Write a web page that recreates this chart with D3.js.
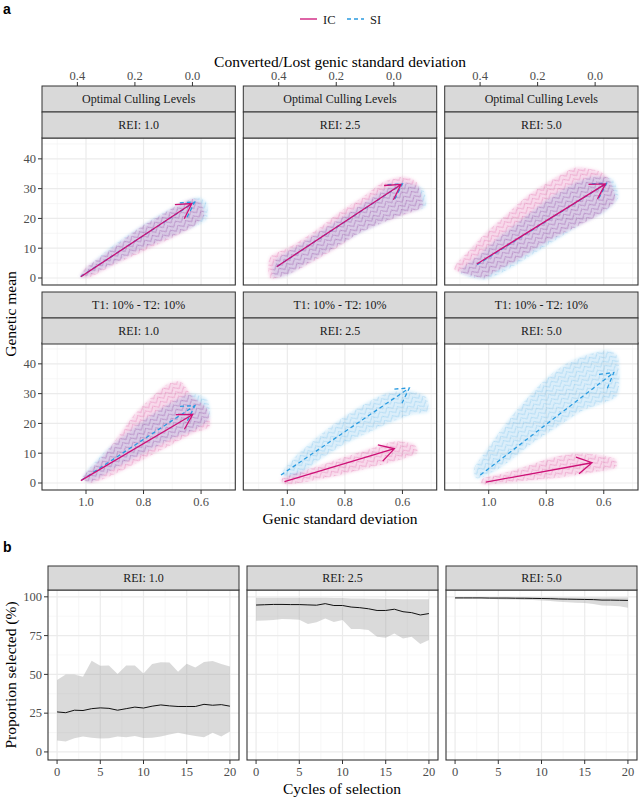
<!DOCTYPE html>
<html><head><meta charset="utf-8">
<script src="https://cdn.jsdelivr.net/npm/d3@7/dist/d3.min.js"></script>
<style>body{margin:0;background:#fff}svg{display:block}</style>
</head><body>
<script>
// ---------------- data ----------------
const methods = ["IC", "SI"];
const schemes = ["Optimal Culling Levels", "T1: 10% - T2: 10%"];
const reiLabels = ["REI: 1.0", "REI: 2.5", "REI: 5.0"];
const xTicksA = [1.0, 0.8, 0.6];
const xMinorA = [1.1, 0.9, 0.7, 0.5];
const topTicksA = [0.4, 0.2, 0.0];
const yTicksA = [0, 10, 20, 30, 40];
const yMinorA = [5, 15, 25, 35, 45];

// arrows [g0, v0, g1, v1] per scheme (row) and REI (column)
const arrowIC = [
  [[1.018, 0.4, 0.632, 25.0], [1.037, 3.8, 0.605, 31.4], [1.041, 4.7, 0.594, 31.6]],
  [[1.018, 0.8, 0.629, 23.0], [1.010, 0.5, 0.628, 11.5], [1.010, 0.3, 0.641, 6.8]]
];
const arrowSI = [
  [[1.018, 0.5, 0.622, 25.5], [1.035, 3.9, 0.600, 31.6], [1.040, 4.5, 0.590, 31.8]],
  [[1.015, 1.0, 0.621, 26.0], [1.022, 2.7, 0.576, 31.9], [1.029, 2.7, 0.565, 37.1]]
];

// envelopes of the replicate trajectories, [genic sd, genetic mean]
const bandIC = [
  [
    [[1.02,0.3],[1.00,3.5],[0.95,7],[0.88,12],[0.81,17],[0.74,21],[0.68,24.5],[0.63,26.5],[0.60,25],[0.59,21],[0.63,17],[0.70,13.5],[0.80,9],[0.90,4.5],[0.98,0.5]],
    [[1.06,7],[0.98,11],[0.90,16],[0.82,22],[0.74,27],[0.67,32],[0.60,34],[0.55,32],[0.53,24],[0.60,21],[0.67,18.5],[0.75,15],[0.83,10],[0.92,5],[1.00,1],[1.06,0]],
    [[1.12,3],[1.06,10],[1.00,16],[0.93,22],[0.86,28],[0.78,33],[0.70,37],[0.62,36],[0.58,33],[0.56,26],[0.62,21],[0.70,17],[0.80,12],[0.90,6],[0.98,2],[1.02,0]]
  ],
  [
    [[1.01,2],[0.95,8],[0.90,14],[0.84,22],[0.78,28],[0.72,33],[0.67,34],[0.63,29],[0.58,25],[0.57,19],[0.62,17],[0.70,13],[0.80,8],[0.90,3],[0.98,0]],
    [[1.02,1.5],[0.93,4.5],[0.84,7.5],[0.76,10],[0.68,12.5],[0.62,14],[0.56,13],[0.55,10],[0.62,7.5],[0.70,5.5],[0.80,3],[0.90,1],[1.00,-0.5]],
    [[1.02,1.5],[0.94,3.5],[0.86,6],[0.78,8.5],[0.70,10],[0.62,9.5],[0.56,8],[0.56,5],[0.64,3.5],[0.74,2],[0.84,1],[0.94,0],[1.02,-0.5]]
  ]
];
const bandSI = [
  [
    [[1.02,0.5],[0.99,4],[0.93,9],[0.86,14],[0.79,18.5],[0.72,22.5],[0.66,25.5],[0.61,27],[0.58,25],[0.58,20],[0.62,17.5],[0.70,14],[0.80,10],[0.90,5],[0.99,1]],
    [[1.04,6],[0.96,11],[0.88,16],[0.80,21],[0.72,26],[0.66,30],[0.60,32],[0.53,30],[0.52,24],[0.58,22],[0.66,19],[0.75,15],[0.84,10],[0.93,5],[1.00,1],[1.05,0.5]],
    [[1.10,2],[1.03,8],[0.96,14],[0.88,20],[0.80,26],[0.72,31],[0.64,34],[0.57,33],[0.55,27],[0.60,22],[0.68,18],[0.78,12],[0.88,6],[0.96,1.5],[1.02,-0.5]]
  ],
  [
    [[1.01,2],[0.95,9],[0.88,15],[0.80,21],[0.72,26],[0.64,30],[0.58,28],[0.57,22],[0.62,18],[0.70,15],[0.80,10],[0.90,5],[0.98,0.5]],
    [[1.02,3],[0.97,9],[0.90,15],[0.82,21],[0.74,26],[0.66,30],[0.58,31],[0.52,29],[0.51,24],[0.57,23],[0.65,20],[0.74,16],[0.82,12],[0.90,7],[0.97,2]],
    [[1.05,5],[1.00,12],[0.94,20],[0.87,28],[0.80,35],[0.73,40],[0.66,43],[0.59,44.5],[0.55,42],[0.55,30],[0.60,27],[0.68,24],[0.76,19],[0.84,14],[0.92,8],[0.98,4],[1.04,1.5]]
  ]
];

// panel b
const cycles = [0,1,2,3,4,5,6,7,8,9,10,11,12,13,14,15,16,17,18,19,20];
const xTicksB = [0, 5, 10, 15, 20];
const xMinorB = [2.5, 7.5, 12.5, 17.5];
const yTicksB = [0, 25, 50, 75, 100];
const yMinorB = [12.5, 37.5, 62.5, 87.5];
const meanB = [
  [25.8,25.3,26.9,26.7,27.9,28.4,28.1,26.9,27.9,28.9,28.3,29.5,30.3,29.7,29.3,29.3,29.3,30.7,30.1,30.5,29.5],
  [94.7,94.9,95.1,95.1,95.0,95.0,94.8,94.6,95.6,94.4,94.4,93.4,93.0,92.3,91.2,91.2,92.0,90.4,89.8,88.3,89.2],
  [99.3,99.3,99.3,99.3,99.2,99.2,99.2,99.1,99.1,99.0,98.9,98.8,98.6,98.5,98.4,98.3,98.2,97.9,97.9,97.8,97.7]
];
const upperB = [
  [46.4,50.0,50.0,48.5,58.8,55.6,55.8,50.2,55.8,55.8,50.6,56.7,57.8,57.6,51.7,56.9,54.5,58.0,58.6,56.7,55.0],
  [99.4,99.4,99.4,99.4,99.4,99.4,99.4,99.4,99.4,99.2,99.2,99.0,99.0,98.8,98.8,98.6,98.6,98.4,98.4,98.4,98.4],
  [99.7,99.7,99.7,99.7,99.7,99.7,99.7,99.7,99.7,99.7,99.7,99.7,99.6,99.6,99.6,99.6,99.6,99.5,99.5,99.5,99.5]
];
const lowerB = [
  [7.3,6.7,8.8,9.9,9.2,8.6,8.8,9.9,9.5,10.3,9.0,9.2,9.9,11.3,12.4,11.3,10.3,9.5,12.4,10.0,13.2],
  [84.6,84.8,85.0,85.7,85.5,85.2,82.5,83.6,86.1,83.7,85.0,79.2,79.2,78.6,74.3,73.6,76.4,73.2,74.3,69.6,72.2],
  [99.0,99.0,98.9,98.9,98.7,98.5,98.3,98.2,98.0,97.9,97.6,97.3,96.8,96.5,96.2,96.0,95.3,94.4,94.2,94.0,93.0]
];

// ---------------- drawing ----------------
const W = 640, H = 799;
const FONT = "'Liberation Serif','Times New Roman',serif";
const colIC = "#CD1076", colSI = "#2A9BE0";
const svg = d3.select("body").append("svg").attr("width", W).attr("height", H)
  .style("font-family", FONT);
const defs = svg.append("defs");

function makePattern(id, col) {
  const p = defs.append("pattern").attr("id", id).attr("width", 9).attr("height", 5)
    .attr("patternUnits", "userSpaceOnUse").attr("patternTransform", "rotate(-32)");
  p.append("path").attr("d", "M0,4.5 L4.5,0.5 L9,4.5").attr("fill", "none")
    .attr("stroke", col).attr("stroke-width", 0.55).attr("stroke-opacity", 0.5);
}
makePattern("patIC", colIC);
makePattern("patSI", colSI);
defs.append("filter").attr("id", "soft").attr("x", "-10%").attr("y", "-10%").attr("width", "120%").attr("height", "120%")
  .append("feGaussianBlur").attr("stdDeviation", 1.6);

const gridMajor = "#EBEBEB", gridMinor = "#F3F3F3", border = "#333333", stripFill = "#D9D9D9";
const tickCol = "#333333", tickLab = "#4D4D4D";
const tickFont = "12.5px";

// panel letters
svg.append("text").attr("x", 3).attr("y", 14).text("a")
  .style("font-family", "'Liberation Sans',Arial,sans-serif").style("font-weight", "bold").style("font-size", "14px");
svg.append("text").attr("x", 3).attr("y", 552).text("b")
  .style("font-family", "'Liberation Sans',Arial,sans-serif").style("font-weight", "bold").style("font-size", "14px");

// legend
const leg = svg.append("g");
const legY = 19;
const legItems = [
  {name: methods[0], col: colIC, dash: null, x: 300},
  {name: methods[1], col: colSI, dash: "4,3", x: 347}
];
legItems.forEach(it => {
  leg.append("line").attr("x1", it.x).attr("x2", it.x + 17).attr("y1", legY).attr("y2", legY)
    .attr("stroke", it.col).attr("stroke-width", 1.3).attr("stroke-dasharray", it.dash);
  leg.append("text").attr("x", it.x + 23).attr("y", legY + 4.5).text(it.name)
    .style("font-size", "12.5px").attr("fill", "#1a1a1a");
});

// top axis title
svg.append("text").attr("x", 340).attr("y", 67).attr("text-anchor", "middle")
  .text("Converted/Lost genic standard deviation").style("font-size", "15.5px");

// panel a layout
const panelXA = [[42, 235.3], [243.3, 436.7], [444.7, 638]];
const rowsA = [{stripTop: 86, top: 138, bottom: 285}, {stripTop: 292, top: 343, bottom: 490}];
const stripH = (rowsA[0].top - rowsA[0].stripTop) / 2;
const xDomA = [1.153, 0.481];
const yDomA = [-2.35, 47.0];
const topOffset = 0.63; // genic sd corresponding to 0.0 converted/lost

function strip(x0, x1, y0, h, label) {
  svg.append("rect").attr("x", x0).attr("y", y0).attr("width", x1 - x0).attr("height", h)
    .attr("fill", stripFill).attr("stroke", border).attr("stroke-width", 1);
  svg.append("text").attr("x", (x0 + x1) / 2).attr("y", y0 + h / 2 + 4.2).attr("text-anchor", "middle")
    .text(label).style("font-size", "12px").attr("fill", "#1A1A1A");
}

function drawArrow(g, xs, ys, a, col, dash) {
  const X0 = xs(a[0]), Y0 = ys(a[1]), X1 = xs(a[2]), Y1 = ys(a[3]);
  const ang = Math.atan2(Y1 - Y0, X1 - X0), L = 17, th = Math.PI / 6;
  const p1 = [X1 - L * Math.cos(ang - th), Y1 - L * Math.sin(ang - th)];
  const p2 = [X1 - L * Math.cos(ang + th), Y1 - L * Math.sin(ang + th)];
  g.append("path").attr("d", `M${X0},${Y0}L${X1},${Y1}M${p1[0]},${p1[1]}L${X1},${Y1}L${p2[0]},${p2[1]}`)
    .attr("fill", "none").attr("stroke", col).attr("stroke-width", 1.3)
    .attr("stroke-dasharray", dash).attr("stroke-linejoin", "miter");
}

rowsA.forEach((row, r) => {
  panelXA.forEach(([x0, x1], c) => {
    const xs = d3.scaleLinear().domain(xDomA).range([x0, x1]);
    const ys = d3.scaleLinear().domain(yDomA).range([row.bottom, row.top]);
    const g = svg.append("g");
    const cid = `clipA${r}${c}`;
    defs.append("clipPath").attr("id", cid).append("rect")
      .attr("x", x0).attr("y", row.top).attr("width", x1 - x0).attr("height", row.bottom - row.top);
    g.append("rect").attr("x", x0).attr("y", row.top).attr("width", x1 - x0).attr("height", row.bottom - row.top).attr("fill", "#fff");
    xMinorA.forEach(v => g.append("line").attr("x1", xs(v)).attr("x2", xs(v)).attr("y1", row.top).attr("y2", row.bottom).attr("stroke", gridMinor).attr("stroke-width", 0.7));
    yMinorA.forEach(v => g.append("line").attr("x1", x0).attr("x2", x1).attr("y1", ys(v)).attr("y2", ys(v)).attr("stroke", gridMinor).attr("stroke-width", 0.7));
    xTicksA.forEach(v => g.append("line").attr("x1", xs(v)).attr("x2", xs(v)).attr("y1", row.top).attr("y2", row.bottom).attr("stroke", gridMajor).attr("stroke-width", 1.2));
    yTicksA.forEach(v => g.append("line").attr("x1", x0).attr("x2", x1).attr("y1", ys(v)).attr("y2", ys(v)).attr("stroke", gridMajor).attr("stroke-width", 1.2));

    const inner = g.append("g").attr("clip-path", `url(#${cid})`);
    const line = d3.line().x(d => xs(d[0])).y(d => ys(d[1])).curve(d3.curveCardinalClosed.tension(0.3));
    [[bandSI[r][c], colSI, "patSI", 0.17], [bandIC[r][c], colIC, "patIC", 0.15]].forEach(([b, col, pat, op]) => {
      inner.append("path").attr("d", line(b)).attr("fill", col).attr("fill-opacity", op).attr("filter", "url(#soft)");
      inner.append("path").attr("d", line(b)).attr("fill", `url(#${pat})`);
    });
    drawArrow(inner, xs, ys, arrowSI[r][c], colSI, "4,3");
    drawArrow(inner, xs, ys, arrowIC[r][c], colIC, null);

    g.append("rect").attr("x", x0).attr("y", row.top).attr("width", x1 - x0).attr("height", row.bottom - row.top)
      .attr("fill", "none").attr("stroke", border).attr("stroke-width", 1.1);

    strip(x0, x1, row.stripTop, stripH, schemes[r]);
    strip(x0, x1, row.stripTop + stripH, stripH, reiLabels[c]);

    if (r === 0) {
      topTicksA.forEach(t => {
        const X = xs(topOffset + t);
        svg.append("line").attr("x1", X).attr("x2", X).attr("y1", row.stripTop - 4).attr("y2", row.stripTop).attr("stroke", tickCol);
        svg.append("text").attr("x", X).attr("y", row.stripTop - 6).attr("text-anchor", "middle")
          .text(d3.format(".1f")(t)).style("font-size", tickFont).attr("fill", tickLab);
      });
    }
    if (r === 1) {
      xTicksA.forEach(t => {
        const X = xs(t);
        svg.append("line").attr("x1", X).attr("x2", X).attr("y1", row.bottom).attr("y2", row.bottom + 4).attr("stroke", tickCol);
        svg.append("text").attr("x", X).attr("y", row.bottom + 15.5).attr("text-anchor", "middle")
          .text(d3.format(".1f")(t)).style("font-size", tickFont).attr("fill", tickLab);
      });
    }
    if (c === 0) {
      yTicksA.forEach(t => {
        const Y = ys(t);
        svg.append("line").attr("x1", x0 - 4).attr("x2", x0).attr("y1", Y).attr("y2", Y).attr("stroke", tickCol);
        svg.append("text").attr("x", x0 - 6).attr("y", Y + 4.3).attr("text-anchor", "end")
          .text(t).style("font-size", tickFont).attr("fill", tickLab);
      });
    }
  });
});

svg.append("text").attr("x", 340).attr("y", 524).attr("text-anchor", "middle")
  .text("Genic standard deviation").style("font-size", "15.5px");
svg.append("text").attr("transform", `translate(16,${(rowsA[0].top + rowsA[1].bottom) / 2}) rotate(-90)`)
  .attr("text-anchor", "middle").text("Genetic mean").style("font-size", "15.5px");

// ---------------- panel b ----------------
const panelXB = [[48, 239], [247, 438], [446, 637]];
const rowB = {stripTop: 566, top: 590, bottom: 760};
const xDomB = [-1.05, 21.05];
const yDomB = [-5.2, 104.4];

panelXB.forEach(([x0, x1], c) => {
  const xs = d3.scaleLinear().domain(xDomB).range([x0, x1]);
  const ys = d3.scaleLinear().domain(yDomB).range([rowB.bottom, rowB.top]);
  const g = svg.append("g");
  g.append("rect").attr("x", x0).attr("y", rowB.top).attr("width", x1 - x0).attr("height", rowB.bottom - rowB.top).attr("fill", "#fff");
  xMinorB.forEach(v => g.append("line").attr("x1", xs(v)).attr("x2", xs(v)).attr("y1", rowB.top).attr("y2", rowB.bottom).attr("stroke", gridMinor).attr("stroke-width", 0.7));
  yMinorB.forEach(v => g.append("line").attr("x1", x0).attr("x2", x1).attr("y1", ys(v)).attr("y2", ys(v)).attr("stroke", gridMinor).attr("stroke-width", 0.7));
  xTicksB.forEach(v => g.append("line").attr("x1", xs(v)).attr("x2", xs(v)).attr("y1", rowB.top).attr("y2", rowB.bottom).attr("stroke", gridMajor).attr("stroke-width", 1.2));
  yTicksB.forEach(v => g.append("line").attr("x1", x0).attr("x2", x1).attr("y1", ys(v)).attr("y2", ys(v)).attr("stroke", gridMajor).attr("stroke-width", 1.2));

  const area = d3.area().x((d, i) => xs(cycles[i])).y0((d, i) => ys(lowerB[c][i])).y1((d, i) => ys(upperB[c][i]));
  g.append("path").attr("d", area(cycles)).attr("fill", "#9E9E9E").attr("fill-opacity", 0.38);
  const ln = d3.line().x((d, i) => xs(cycles[i])).y(d => ys(d));
  g.append("path").attr("d", ln(meanB[c])).attr("fill", "none").attr("stroke", "#111").attr("stroke-width", 1);

  g.append("rect").attr("x", x0).attr("y", rowB.top).attr("width", x1 - x0).attr("height", rowB.bottom - rowB.top)
    .attr("fill", "none").attr("stroke", border).attr("stroke-width", 1.1);
  strip(x0, x1, rowB.stripTop, rowB.top - rowB.stripTop, reiLabels[c]);

  xTicksB.forEach(t => {
    const X = xs(t);
    svg.append("line").attr("x1", X).attr("x2", X).attr("y1", rowB.bottom).attr("y2", rowB.bottom + 4).attr("stroke", tickCol);
    svg.append("text").attr("x", X).attr("y", rowB.bottom + 15.5).attr("text-anchor", "middle")
      .text(t).style("font-size", tickFont).attr("fill", tickLab);
  });
  if (c === 0) {
    yTicksB.forEach(t => {
      const Y = ys(t);
      svg.append("line").attr("x1", x0 - 4).attr("x2", x0).attr("y1", Y).attr("y2", Y).attr("stroke", tickCol);
      svg.append("text").attr("x", x0 - 6).attr("y", Y + 4.3).attr("text-anchor", "end")
        .text(t).style("font-size", tickFont).attr("fill", tickLab);
    });
  }
});

svg.append("text").attr("x", 342).attr("y", 794).attr("text-anchor", "middle")
  .text("Cycles of selection").style("font-size", "15.5px");
svg.append("text").attr("transform", `translate(16,${(rowB.top + rowB.bottom) / 2}) rotate(-90)`)
  .attr("text-anchor", "middle").text("Proportion selected (%)").style("font-size", "15.5px");
</script>
</body></html>
